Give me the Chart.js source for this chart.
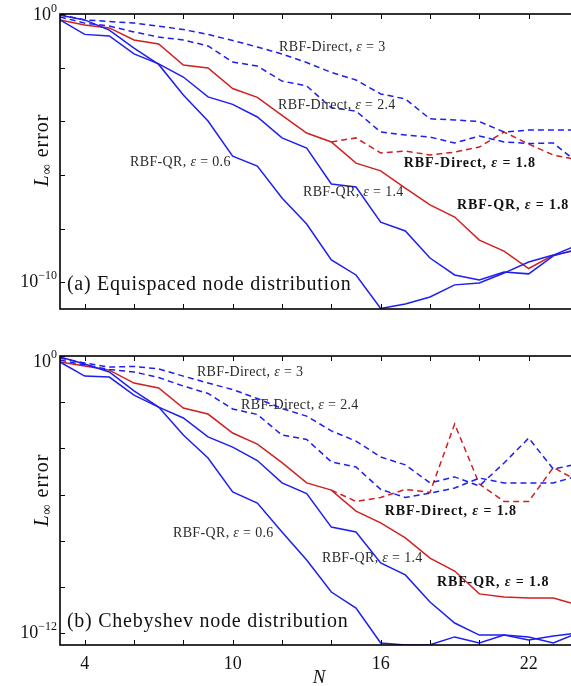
<!DOCTYPE html>
<html><head><meta charset="utf-8">
<script src="https://cdn.jsdelivr.net/npm/chart.js@4.4.0/dist/chart.umd.min.js"></script>
<style>
html,body{margin:0;padding:0;background:#fff;overflow:hidden;width:571px;height:686px;position:relative;}
#c1{position:absolute;left:0;top:0;}
#c2{position:absolute;left:0;top:330px;}
</style></head><body>
<canvas id="c1" width="620" height="330"></canvas>
<canvas id="c2" width="620" height="356"></canvas>
<script>
// ---------- data (values are log10 of the L-infinity error) ----------
const nValues = [3,4,5,6,7,8,9,10,11,12,13,14,15,16,17,18,19,20,21,22,23,24];

// (a) Equispaced nodes
const eqQR06  = [-0.05,-0.22,-0.6,-1.27,-1.88,-3.02,-3.99,-5.3,-5.67,-6.86,-7.83,-9.17,-9.73,-10.98,-10.81,-10.55,-10.1,-10.03,-9.66,-9.25,-8.99,-8.61];
const eqQR14  = [-0.22,-0.76,-0.82,-1.49,-1.86,-2.35,-3.09,-3.37,-3.84,-4.62,-5.0,-6.34,-6.45,-7.76,-8.09,-9.1,-9.73,-9.92,-9.62,-9.69,-9.02,-8.76];
const eqQR18  = [-0.22,-0.41,-0.52,-0.97,-1.12,-1.9,-2.01,-2.78,-3.11,-3.78,-4.44,-4.77,-5.56,-5.85,-6.49,-7.12,-7.57,-8.43,-8.84,-9.49,-8.99,-8.8];
const eqDir18 = [null,null,null,null,null,null,null,null,null,null,null,-4.77,-4.62,-5.18,-5.11,-5.26,-5.15,-4.96,-4.4,-4.85,-5.26,-5.44];
const eqDir3  = [-0.02,-0.22,-0.28,-0.34,-0.45,-0.58,-0.76,-0.99,-1.23,-1.49,-1.81,-2.18,-2.46,-2.98,-3.17,-3.91,-3.95,-4.01,-4.4,-4.33,-4.33,-4.33];
const eqDir24 = [-0.11,-0.34,-0.45,-0.67,-0.86,-0.97,-1.19,-1.79,-1.94,-2.5,-2.68,-3.5,-3.62,-4.4,-4.51,-4.59,-4.81,-4.55,-4.77,-4.83,-4.81,-5.56];

// (b) Chebyshev nodes
const chQR06  = [-0.04,-0.35,-0.69,-1.51,-2.21,-3.42,-4.41,-5.88,-6.36,-7.61,-8.82,-10.21,-10.9,-12.41,-12.5,-12.49,-12.15,-12.41,-12.07,-12.28,-12.11,-11.98];
const chQR14  = [-0.26,-0.87,-0.91,-1.69,-2.21,-2.68,-3.5,-3.94,-4.52,-5.49,-5.95,-7.4,-7.61,-8.95,-9.47,-10.64,-11.55,-12.07,-12.07,-12.15,-12.41,-11.98];
const chQR18  = [-0.26,-0.43,-0.61,-1.17,-1.38,-2.25,-2.51,-3.33,-3.81,-4.61,-5.49,-5.8,-6.71,-7.22,-7.87,-8.74,-9.3,-10.29,-10.42,-10.47,-10.47,-10.77];
const chDir18 = [null,null,null,null,null,null,null,null,null,null,null,-5.8,-6.29,-6.12,-5.77,-5.9,-2.94,-5.54,-6.29,-6.29,-4.82,-5.41];
const chDir3  = [-0.09,-0.3,-0.48,-0.45,-0.56,-0.87,-1.17,-1.45,-1.84,-2.27,-2.6,-3.24,-3.68,-4.37,-4.71,-5.49,-5.23,-5.62,-4.63,-3.55,-4.89,-4.67];
const chDir24 = [-0.17,-0.39,-0.58,-0.69,-0.93,-1.3,-1.62,-2.29,-2.53,-3.42,-3.61,-4.58,-4.8,-5.77,-6.12,-5.93,-5.71,-5.28,-5.49,-5.49,-5.49,-5.19];

// ticks
const xTickValues = [4,6,8,10,12,14,16,18,20,22,24];
const xTickLabels = ['4','10','16','22'];
const eqYTickExps = [0,-2,-4,-6,-8,-10];
const eqYLabelExps = [0,-10];
const chYTickExps = [0,-2,-4,-6,-8,-10,-12];
const chYLabelExps = [0,-12];

// annotations (text, N, log10 error)
const eqLabelTexts = ['RBF-Direct, ε = 3','RBF-Direct, ε = 2.4','RBF-QR, ε = 0.6','RBF-QR, ε = 1.4','RBF-Direct, ε = 1.8','RBF-QR, ε = 1.8'];
const eqLabelN     = [11.88, 11.84, 5.84, 12.85, 16.94, 19.09];
const eqLabelE     = [-1.23, -3.39, -5.52, -6.64, -5.56, -7.12];
const chLabelTexts = ['RBF-Direct, ε = 3','RBF-Direct, ε = 2.4','RBF-QR, ε = 0.6','RBF-QR, ε = 1.4','RBF-Direct, ε = 1.8','RBF-QR, ε = 1.8'];
const chLabelN     = [8.55, 10.34, 7.58, 13.62, 16.17, 18.28];
const chLabelE     = [-0.69, -2.12, -7.66, -8.74, -6.7, -9.78];
const labelBold    = [false,false,false,false,true,true];
const eqTitle = '(a) Equispaced node distribution';
const chTitle = '(b) Chebyshev node distribution';

// ---------- rendering ----------
const BLUE = '#1e1ef0', RED = '#d02020';
const SERIF = '"Liberation Serif", "DejaVu Serif", serif';

function pts(arr){ return nValues.map((n,i)=> arr[i]===null ? {x:n,y:null} : {x:n, y:Math.pow(10, arr[i])}); }
function ds(arr, color, dashed){
  return {data: pts(arr), borderColor: color, borderWidth: 1.5, borderDash: dashed ? [6,4] : [],
          pointRadius: 0, fill: false, tension: 0, spanGaps: false};
}

function drawLabel(ctx, text, x, y, bold){
  const parts = text.split('ε');
  const w = bold ? 'bold ' : '';
  const ls = bold ? '0.9px' : '0.35px';
  ctx.textAlign = 'left'; ctx.textBaseline = 'middle';
  ctx.fillStyle = bold ? '#111' : '#2a2a2a';
  let cx = x;
  const segs = [[parts[0], w + '14px ' + SERIF], ['ε', 'italic ' + w + '14px ' + SERIF], [parts[1], w + '14px ' + SERIF]];
  for (const [t,f] of segs){
    ctx.font = f; ctx.letterSpacing = ls;
    ctx.fillText(t, cx, y);
    cx += ctx.measureText(t).width;
  }
  ctx.letterSpacing = '0px';
}

const framePlugin = {
  id: 'frame',
  afterDatasetsDraw(chart, args, o){
    const {ctx, chartArea: a} = chart;
    const x = chart.scales.x, y = chart.scales.y;
    ctx.save();
    // frame
    ctx.strokeStyle = '#000'; ctx.lineWidth = 1.6;
    ctx.strokeRect(a.left, a.top, a.right - a.left, a.bottom - a.top);
    // inward ticks
    ctx.lineWidth = 1;
    ctx.beginPath();
    for (const v of o.xTicks){
      const px = Math.round(x.getPixelForValue(v)) + 0.5;
      ctx.moveTo(px, a.bottom); ctx.lineTo(px, a.bottom - 5);
      ctx.moveTo(px, a.top); ctx.lineTo(px, a.top + 5);
    }
    for (const e of o.yTicks){
      const py = Math.round(y.getPixelForValue(Math.pow(10,e))) + 0.5;
      ctx.moveTo(a.left, py); ctx.lineTo(a.left + 5, py);
      ctx.moveTo(a.right, py); ctx.lineTo(a.right - 5, py);
    }
    ctx.stroke();
    // y tick labels 10^k
    ctx.fillStyle = '#111';
    o.yLabels.forEach((e, i) => {
      const py = y.getPixelForValue(Math.pow(10,e)) + o.yLabelShift[i];
      const exp = e === 0 ? '0' : '\u2212' + String(-e);
      ctx.font = '18px ' + SERIF; const w1 = ctx.measureText('10').width;
      ctx.font = '12px ' + SERIF; const w2 = ctx.measureText(exp).width;
      const x0 = a.left - 3 - w1 - w2;
      ctx.textAlign = 'left'; ctx.textBaseline = 'middle';
      ctx.font = '18px ' + SERIF; ctx.fillText('10', x0, py);
      ctx.font = '12px ' + SERIF; ctx.fillText(exp, x0 + w1, py - 7);
    });
    // x tick labels
    if (o.showXLabels){
      ctx.font = '18px ' + SERIF; ctx.textAlign = 'center'; ctx.textBaseline = 'middle';
      xTickLabels.forEach(l => ctx.fillText(l, x.getPixelForValue(Number(l)), a.bottom + 19));
      ctx.font = 'italic 19px ' + SERIF;
      ctx.fillText('N', (a.left + a.right) / 2, a.bottom + 33);
    }
    // y axis title  L_inf error
    {
      const cy = y.getPixelForValue(Math.pow(10, o.yTitleE));
      ctx.save();
      ctx.translate(43, cy); ctx.rotate(-Math.PI/2);
      ctx.textBaseline = 'middle'; ctx.textAlign = 'left';
      const segs = [['L','italic 20px ' + SERIF, 0], ['\u221E','14px ' + SERIF, 4], [' error','20px ' + SERIF, 0]];
      let tw = 0;
      for (const [t,f] of segs){ ctx.font = f; tw += ctx.measureText(t).width; }
      tw += 8;
      let cx = -tw/2;
      for (const [t,f,dy] of segs){ ctx.font = f; ctx.letterSpacing = '1px'; ctx.fillText(t, cx, dy); cx += ctx.measureText(t).width; }
      ctx.letterSpacing = '0px';
      ctx.restore();
    }
    // annotations
    o.labels.forEach((t, i) => {
      drawLabel(ctx, t, x.getPixelForValue(o.labelN[i]), y.getPixelForValue(Math.pow(10, o.labelE[i])), labelBold[i]);
    });
    // panel title
    ctx.font = '20px ' + SERIF; ctx.letterSpacing = '0.75px';
    ctx.textAlign = 'left'; ctx.textBaseline = 'middle'; ctx.fillStyle = '#111';
    ctx.fillText(o.title, x.getPixelForValue(o.titleN), y.getPixelForValue(Math.pow(10, o.titleE)));
    ctx.letterSpacing = '0px';
    ctx.restore();
  }
};

function makeChart(id, sets, yMin, padding, frameOpts){
  return new Chart(document.getElementById(id), {
    type: 'line',
    data: { datasets: sets },
    options: {
      responsive: false, animation: false, devicePixelRatio: 1,
      layout: { padding },
      scales: {
        x: { type: 'linear', min: 3, max: 24, display: false },
        y: { type: 'logarithmic', min: yMin, max: 1, display: false, bounds: 'data' }
      },
      plugins: { legend: {display:false}, tooltip: {enabled:false}, frame: frameOpts }
    },
    plugins: [framePlugin]
  });
}

makeChart('c1', [
  ds(eqDir3, BLUE, true), ds(eqDir24, BLUE, true), ds(eqDir18, RED, true),
  ds(eqQR06, BLUE, false), ds(eqQR14, BLUE, false), ds(eqQR18, RED, false)
], 1e-11, {left:60, top:14, right:42, bottom:21}, {
  xTicks: xTickValues, yTicks: eqYTickExps, yLabels: eqYLabelExps, yLabelShift: [1.5, 0.5],
  showXLabels: false, yTitleE: -5.07,
  labels: eqLabelTexts, labelN: eqLabelN, labelE: eqLabelE,
  title: eqTitle, titleN: 3.28, titleE: -10.1
});

makeChart('c2', [
  ds(chDir3, BLUE, true), ds(chDir24, BLUE, true), ds(chDir18, RED, true),
  ds(chQR06, BLUE, false), ds(chQR14, BLUE, false), ds(chQR18, RED, false)
], Math.pow(10, -12.5), {left:60, top:26, right:42, bottom:41}, {
  xTicks: xTickValues, yTicks: chYTickExps, yLabels: chYLabelExps, yLabelShift: [6, 0],
  showXLabels: true, yTitleE: -5.8,
  labels: chLabelTexts, labelN: chLabelN, labelE: chLabelE,
  title: chTitle, titleN: 3.28, titleE: -11.5
});
</script>
</body></html>
